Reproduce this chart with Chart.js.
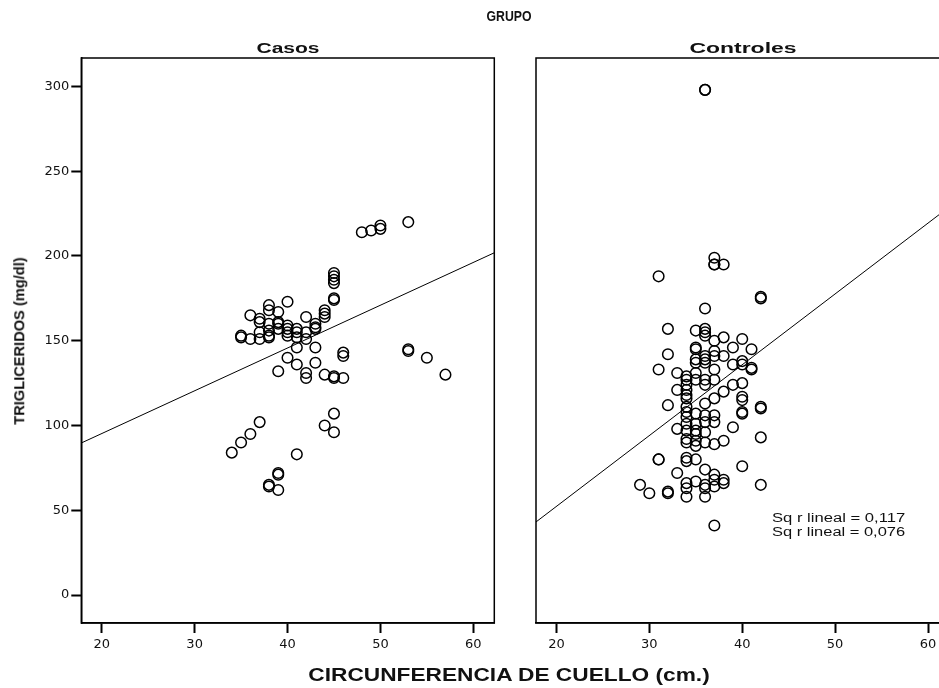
<!DOCTYPE html>
<html>
<head>
<meta charset="utf-8">
<script src="https://cdn.jsdelivr.net/npm/chart.js@4.4.1/dist/chart.umd.min.js"></script>
<style>
  html, body { margin: 0; padding: 0; background: #fff; }
  body { width: 939px; height: 688px; overflow: hidden; position: relative;
         font-family: "Liberation Sans", Arial, sans-serif; }
  canvas { position: absolute; top: 0; }
  .lbl { position: absolute; white-space: nowrap; color: #111; font-weight: bold; line-height: 1; }
  .sq { font-weight: normal; font-size: 12.5px; transform-origin: left center; }
</style>
</head>
<body>
<canvas id="casos" width="510" height="688" style="left:0"></canvas>
<canvas id="controles" width="440" height="688" style="left:520px"></canvas>

<div class="lbl" style="left:509px;top:15px;font-size:15px" data-w="45">GRUPO</div>
<div class="lbl" style="left:288px;top:47px;font-size:15px" data-w="63">Casos</div>
<div class="lbl" style="left:743px;top:47px;font-size:15px" data-w="107">Controles</div>
<div class="lbl" style="left:509px;top:676px;font-size:17.5px" data-w="402">CIRCUNFERENCIA DE CUELLO (cm.)</div>
<div class="lbl" style="left:19px;top:341px;font-size:15.5px" data-w="167" data-t="translate(-50%,-50%) rotate(-90deg)">TRIGLICERIDOS (mg/dl)</div>
<div class="lbl sq" style="left:772px;top:518px" data-w="133" data-t="translateY(-50%)">Sq r lineal = 0,117</div>
<div class="lbl sq" style="left:772px;top:532px" data-w="133" data-t="translateY(-50%)">Sq r lineal = 0,076</div>

<script>
// ejes
const xTicks = [20, 30, 40, 50, 60];
const yTicks = [0, 50, 100, 150, 200, 250, 300];

// Casos: circunferencia de cuello / trigliceridos
const casosX = [34, 35, 35, 35, 36, 36, 36, 37, 37, 37, 37, 37,
  38, 38, 38, 38, 38, 38, 38, 38, 39, 39, 39, 39, 39, 39, 39, 39,
  40, 40, 40, 40, 40, 40, 41, 41, 41, 41, 41, 41, 42, 42, 42, 42, 42,
  43, 43, 43, 43, 43, 44, 44, 44, 44, 44,
  45, 45, 45, 45, 45, 45, 45, 45, 45, 45, 46, 46, 46,
  48, 49, 50, 50, 53, 53, 53, 55, 57];
const casosY = [84, 90, 152, 153, 95, 151, 165, 102, 151, 155, 161, 163,
  64, 65, 152, 153, 156, 160, 168, 171, 62, 71, 72, 132, 157, 160, 161, 167,
  140, 153, 155, 157, 159, 173, 83, 136, 146, 152, 155, 157, 128, 131, 151, 155, 164,
  137, 146, 157, 158, 160, 100, 130, 164, 166, 168,
  96, 107, 128, 129, 174, 175, 184, 186, 188, 190, 128, 141, 143,
  214, 215, 216, 218, 144, 145, 220, 140, 130];

// Controles
const controlesX = [29, 30, 31, 31, 31, 31, 32, 32, 32, 32, 32, 33, 33, 33, 33,
  34, 34, 34, 34, 34, 34, 34, 34, 34, 34, 34, 34, 34, 34, 34, 34, 34, 34,
  35, 35, 35, 35, 35, 35, 35, 35, 35, 35, 35, 35, 35, 35, 35,
  36, 36, 36, 36, 36, 36, 36, 36, 36, 36, 36, 36, 36, 36, 36, 36, 36, 36, 36, 36,
  37, 37, 37, 37, 37, 37, 37, 37, 37, 37, 37, 37, 37, 37, 37, 37,
  38, 38, 38, 38, 38, 38, 38, 39, 39, 39, 39,
  40, 40, 40, 40, 40, 40, 40, 40, 40, 41, 41, 41, 42, 42, 42, 42, 42, 42];
const controlesY = [65, 60, 80, 80, 133, 188, 60, 61, 112, 142, 157, 72, 98, 121, 131,
  58, 63, 66, 79, 81, 90, 92, 97, 101, 105, 108, 111, 116, 118, 121, 124, 127, 129,
  67, 80, 88, 91, 95, 97, 101, 107, 127, 131, 137, 139, 145, 146, 156,
  58, 63, 65, 74, 90, 96, 102, 106, 113, 124, 127, 137, 139, 141, 153, 155, 157, 169, 298, 298,
  41, 64, 68, 71, 89, 102, 106, 116, 127, 133, 141, 144, 150, 195, 195, 199,
  66, 68, 91, 120, 141, 152, 195, 99, 124, 136, 146,
  76, 107, 108, 115, 117, 125, 136, 138, 151, 133, 134, 145, 65, 93, 110, 111, 175, 176];

// rectas de ajuste (extremos)
const casosFitX = [17.8, 62.3];
const casosFitY = [89.7, 202];
const controlesFitX = [17.8, 62.3];
const controlesFitY = [43.1, 229];

const boxPlugin = {
  id: 'box',
  afterDatasetsDraw(chart) {
    const { ctx, chartArea: a } = chart;
    ctx.save();
    ctx.strokeStyle = '#000';
    ctx.lineWidth = 1.5;
    ctx.strokeRect(a.left, a.top, a.right - a.left, a.bottom - a.top);
    ctx.restore();
  }
};

function pts(xs, ys) {
  return xs.map((x, i) => ({ x: x, y: ys[i] }));
}

function panel(id, xs, ys, fx, fy, withY) {
  const tickFont = { family: '"DejaVu Sans", sans-serif', size: 13 };
  return new Chart(document.getElementById(id), {
    type: 'scatter',
    data: {
      datasets: [
        { data: pts(xs, ys), pointStyle: 'circle', pointRadius: 5.3, borderWidth: 1.5,
          borderColor: '#000', backgroundColor: 'rgba(0,0,0,0)' },
        { data: pts(fx, fy), showLine: true, pointRadius: 0, borderWidth: 1, borderColor: '#000' }
      ]
    },
    options: {
      responsive: false,
      animation: false,
      events: [],
      devicePixelRatio: 1,
      layout: { padding: withY ? { top: 58, right: 15.7, left: 0, bottom: 0 }
                               : { top: 58, right: 11, left: 16, bottom: 0 } },
      plugins: { legend: { display: false }, tooltip: { enabled: false } },
      scales: {
        x: {
          type: 'linear', min: 17.8, max: 62.26,
          afterBuildTicks: s => { s.ticks = xTicks.map(v => ({ value: v })); },
          afterFit: s => { s.height = 65; },
          ticks: { color: '#111', font: tickFont, padding: 4, maxRotation: 0 },
          grid: { drawOnChartArea: false, drawTicks: true, tickLength: 10,
                  tickWidth: 2, tickColor: '#000' },
          border: { display: true, color: '#000', width: 1.5 }
        },
        y: {
          type: 'linear', min: -16.5, max: 316.8, display: withY,
          afterBuildTicks: s => { s.ticks = yTicks.map(v => ({ value: v })); },
          afterFit: s => { s.width = withY ? 81.3 : 0; },
          ticks: { color: '#111', font: tickFont, padding: 2 },
          grid: { drawOnChartArea: false, drawTicks: true, tickLength: 10,
                  tickWidth: 2, tickColor: '#000' },
          border: { display: true, color: '#000', width: 1.5 }
        }
      }
    },
    plugins: [boxPlugin]
  });
}

panel('casos', casosX, casosY, casosFitX, casosFitY, true);
panel('controles', controlesX, controlesY, controlesFitX, controlesFitY, false);

// ajustar el ancho de los textos al original
document.querySelectorAll('.lbl').forEach(el => {
  const s = el.dataset.w / el.offsetWidth;
  el.style.transform = (el.dataset.t || 'translate(-50%,-50%)') + ' scaleX(' + s.toFixed(3) + ')';
});
</script>
</body>
</html>
